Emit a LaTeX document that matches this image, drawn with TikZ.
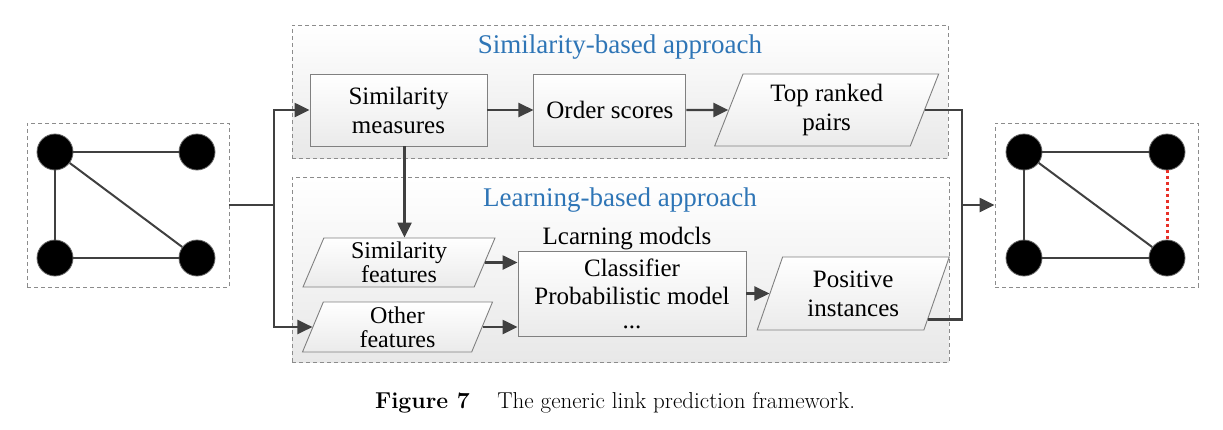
\documentclass[tikz,border=0pt]{standalone}
\usepackage{fontspec}
\newfontfamily\tnr{Liberation Serif}
\usetikzlibrary{
    positioning,                      % right=of etc.
    arrows.meta,                      % Triangle tips
    shapes.geometric,                 % trapezium
    calc                              % points on the sides
}
\definecolor{line_dark}{RGB}{64,64,64}
\definecolor{frame_gray}{RGB}{140,140,140}
\definecolor{title_blue}{RGB}{46,117,182}
\definecolor{link_red}{RGB}{232,48,40}
\tikzset{
    groupbox/.style={
        rectangle, draw=frame_gray, dash pattern=on 4pt off 3pt,
        line width=0.9pt, top color=white, bottom color=black!9
    },
    grouptitle/.style={
        font=\tnr\fontsize{27}{30}\selectfont, text=title_blue, inner sep=0pt
    },
    procbox/.style={
        rectangle, draw=black!50, line width=0.9pt,
        top color=white, bottom color=black!8,
        align=center, font=\tnr\fontsize{25}{29}\selectfont,
        inner sep=2pt, minimum height=72pt
    },
    databox/.style={
        procbox, trapezium, trapezium left angle=63, trapezium right angle=117,
        trapezium stretches body
    },
    smalldata/.style={
        databox, inner sep=0pt, font=\tnr\fontsize{24}{24}\selectfont
    },
    graphbox/.style={
        rectangle, draw=frame_gray, dash pattern=on 4pt off 3pt,
        line width=0.9pt, minimum width=202pt, minimum height=164pt
    },
    vertex/.style={
        circle, fill=black, draw=black!60, line width=0.8pt,
        minimum size=36pt, inner sep=0pt
    },
    edge/.style={draw=line_dark, line width=2pt},
    newedge/.style={draw=link_red, line width=3pt, dash pattern=on 3pt off 3pt},
    wire/.style={draw=line_dark, line width=2.4pt},
    arrow/.style={wire, -{Triangle[length=15pt,width=14pt]}}
}

\begin{document}
\begin{tikzpicture}[x=1pt, y=-1pt, node distance=46pt]

    \useasboundingbox (0,0) rectangle (1223,429);

    % Grupos
    \node[groupbox, minimum width=656pt, minimum height=133pt] (simgroup) at (620,91.5) {};
    \node[groupbox, minimum width=657pt, minimum height=185pt] (lrngroup) at (620.5,269.5) {};
    \node[grouptitle] (simtitle) at (620,47) {Similarity-based approach};
    \node[grouptitle] (lrntitle) at (620,200) {Learning-based approach};

    % Fila superior
    \node[procbox, minimum width=177pt] (sm) at (398.5,110) {Similarity\\measures};
    \node[procbox, minimum width=152pt, right=of sm] (os) {Order scores};
    \node[databox, minimum width=224pt, right=42pt of os] (tr) {Top ranked\\pairs};

    % Fila inferior
    \node[smalldata, minimum width=192pt, minimum height=49pt] (sf) at (399,262.5) {Similarity\\features};
    \node[smalldata, minimum width=190pt, minimum height=50pt] (of) at (397.5,327) {Other\\features};
    \node[procbox, minimum width=228pt, minimum height=85pt, inner sep=0pt] (lm) at (632,293.5)
        {Classifier\\[-1pt]Probabilistic model\\[-5pt]...};
    \node[above=0pt of lm, font=\tnr\fontsize{25}{29}\selectfont, inner sep=0pt, xshift=-5pt] (lmlabel) {Lcarning modcls};
    \node[databox, minimum width=192pt, minimum height=73pt, right=23pt of lm] (pi) {Positive\\instances};

    % Grafo de entrada
    \node[graphbox] (gin) at (128,205) {};
    \node[vertex] (a1) at (55,152) {};
    \node[vertex] (a2) at (197,152) {};
    \node[vertex] (a3) at (55,258) {};
    \node[vertex] (a4) at (197,258) {};
    \draw[edge] (a1) -- (a2);
    \draw[edge] (a1) -- (a3);
    \draw[edge] (a3) -- (a4);
    \draw[edge] (a1) -- (a4);

    % Grafo de salida
    \node[graphbox, minimum width=203pt] (gout) at (1096.5,205) {};
    \node[vertex] (b1) at (1024,152) {};
    \node[vertex] (b2) at (1167,152) {};
    \node[vertex] (b3) at (1024,258) {};
    \node[vertex] (b4) at (1167,258) {};
    \draw[edge] (b1) -- (b2);
    \draw[edge] (b1) -- (b3);
    \draw[edge] (b3) -- (b4);
    \draw[edge] (b1) -- (b4);
    \draw[newedge] (b2) -- (b4);

    % Conexiones
    \coordinate (split) at (274,205);
    \coordinate (merge) at (962,205);
    \draw[wire] (gin.east) -- (split);
    \draw[arrow] (split) |- (sm.west);
    \draw[arrow] (split) |- (of.west);
    \draw[arrow] (sm) -- (os);
    \draw[arrow] (os) -- (tr);
    \draw[arrow] ([xshift=6pt]sm.south) -- ([xshift=6pt]sm.south |- sf.north);
    \draw[arrow] (sf.east) -- (sf.east -| lm.west);
    \draw[arrow] (of.east) -- (of.east -| lm.west);
    \draw[arrow] (lm) -- (pi);
    \draw[wire] (tr.east) -| (merge);
    \draw[wire] ($(pi.bottom right corner)!0.15!(pi.top right corner)$) -| (merge);
    \draw[arrow] (merge) -- (gout.west);

    % Pie de figura
    \node[font=\fontsize{23}{27}\selectfont] (caption) at (615,403)
        {\textbf{Figure 7}\hspace{1.2em}The generic link prediction framework.};

\end{tikzpicture}
\end{document}
